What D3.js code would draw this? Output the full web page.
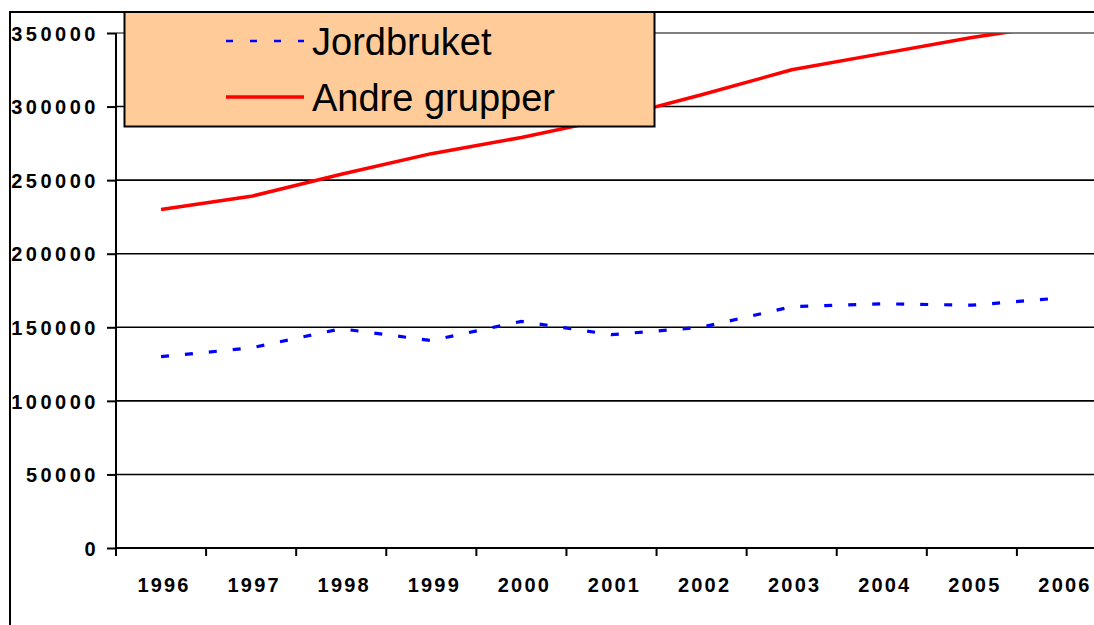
<!DOCTYPE html>
<html>
<head>
<meta charset="utf-8">
<script src="https://cdn.jsdelivr.net/npm/d3@7"></script>
<style>
	body { margin: 0; background: #fff; }
	svg { display: block; }
	.tick-label { font-family: 'Liberation Sans', Arial, sans-serif; font-weight: bold; font-size: 20px; fill: #000; }
	.tick-label--y { letter-spacing: 3.5px; }
	.tick-label--x { letter-spacing: 2.2px; }
	.legend-label { font-family: 'Liberation Sans', Arial, sans-serif; font-size: 38px; fill: #000; }
</style>
</head>
<body>
<div id="chart"></div>
<script>

let years = ['1996', '1997', '1998', '1999', '2000', '2001', '2002', '2003', '2004', '2005', '2006']

let jordbruket = [130000, 136000, 149000, 141000, 154000, 145000, 150000, 164000, 166000, 165000, 170000]

let andreGrupper = [230000, 239000, 254000, 268000, 279000, 292000, 308000, 325000, 336000, 347000, 356000]

let yTicks = [0, 50000, 100000, 150000, 200000, 250000, 300000, 350000]

let seriesNames = ['Jordbruket', 'Andre grupper']

let width = 1094
let height = 625

let plot = { left: 116, top: 33, bottom: 548, right: 1107 }

let svg = d3.select('#chart')
	.append('svg')
	.attr('width', width)
	.attr('height', height)

let x = d3.scaleBand()
	.domain(years)
	.range([plot.left, plot.right])

let y = d3.scaleLinear()
	.domain([0, 350000])
	.range([plot.bottom, plot.top])

// outer chart frame, runs off the right and bottom of the picture
svg.append('rect')
	.attr('x', 10)
	.attr('y', 12)
	.attr('width', width + 20)
	.attr('height', height + 20)
	.attr('fill', 'none')
	.attr('stroke', '#000')
	.attr('stroke-width', 2)

// gridlines
svg.append('g')
	.selectAll('line')
	.data(yTicks.filter(d => d > 0))
	.enter()
	.append('line')
	.attr('x1', plot.left)
	.attr('x2', width)
	.attr('y1', d => y(d))
	.attr('y2', d => y(d))
	.attr('stroke', d => d === 350000 ? '#808080' : '#000')
	.attr('stroke-width', d => d === 350000 ? 2 : 1.6)

// y axis
let yAxis = svg.append('g')
	.attr('transform', `translate(${plot.left},0)`)
	.call(d3.axisLeft(y)
		.tickValues(yTicks)
		.tickSize(9)
		.tickSizeOuter(0)
		.tickPadding(8)
		.tickFormat(d3.format('d')))

yAxis.select('.domain')
	.attr('stroke', '#000')
	.attr('stroke-width', 2)
	.attr('d', `M0,${plot.top}V${plot.bottom + 8}`)

yAxis.selectAll('.tick line')
	.attr('stroke', '#000')
	.attr('stroke-width', 2)

yAxis.selectAll('.tick text')
	.attr('class', 'tick-label tick-label--y')
	.attr('font-size', null)
	.attr('font-family', null)
	.attr('dy', '0.36em')

// x axis
let xAxis = svg.append('g')
	.attr('transform', `translate(0,${plot.bottom})`)
	.call(d3.axisBottom(x)
		.tickSize(0)
		.tickPadding(30))

xAxis.select('.domain')
	.attr('stroke', '#000')
	.attr('stroke-width', 2)
	.attr('d', `M${plot.left},0H${width}`)

xAxis.selectAll('.tick text')
	.attr('class', 'tick-label tick-label--x')
	.attr('font-size', null)
	.attr('font-family', null)
	.attr('dx', 3)

// category boundary ticks
xAxis.append('g')
	.selectAll('line')
	.data(years)
	.enter()
	.append('line')
	.attr('x1', d => x(d))
	.attr('x2', d => x(d))
	.attr('y1', 0)
	.attr('y2', 8)
	.attr('stroke', '#000')
	.attr('stroke-width', 2)

// lines, clipped to the plot area
svg.append('clipPath')
	.attr('id', 'plot-clip')
	.append('rect')
	.attr('x', plot.left)
	.attr('y', plot.top)
	.attr('width', plot.right - plot.left)
	.attr('height', plot.bottom - plot.top)

let line = d3.line()
	.x((d, i) => x(years[i]) + x.bandwidth() / 2)
	.y(d => y(d))

let lineLayer = svg.append('g')
	.attr('clip-path', 'url(#plot-clip)')

lineLayer.append('path')
	.datum(andreGrupper)
	.attr('d', line)
	.attr('fill', 'none')
	.attr('stroke', '#ff0000')
	.attr('stroke-width', 3.5)
	.attr('stroke-linejoin', 'round')

lineLayer.append('path')
	.datum(jordbruket)
	.attr('d', line)
	.attr('fill', 'none')
	.attr('stroke', '#0000ff')
	.attr('stroke-width', 3.2)
	.attr('stroke-dasharray', '8,16')

// legend
let legend = svg.append('g')

legend.append('rect')
	.attr('x', 124.5)
	.attr('y', 12)
	.attr('width', 530)
	.attr('height', 114.5)
	.attr('fill', '#ffcc99')
	.attr('stroke', '#000')
	.attr('stroke-width', 2)

let legendItems = [
	{ name: seriesNames[0], color: '#0000ff', dash: '7,17', width: 2.5, y: 41 },
	{ name: seriesNames[1], color: '#ff0000', dash: null, width: 3.5, y: 97 }
]

legend.selectAll('.legend-line')
	.data(legendItems)
	.enter()
	.append('line')
	.attr('class', 'legend-line')
	.attr('x1', 226)
	.attr('x2', 304)
	.attr('y1', d => d.y)
	.attr('y2', d => d.y)
	.attr('stroke', d => d.color)
	.attr('stroke-width', d => d.width)
	.attr('stroke-dasharray', d => d.dash)

legend.selectAll('.legend-label')
	.data(legendItems)
	.enter()
	.append('text')
	.attr('class', 'legend-label')
	.attr('x', 312)
	.attr('y', d => d.y + 14)
	.text(d => d.name)

</script>
</body>
</html>
